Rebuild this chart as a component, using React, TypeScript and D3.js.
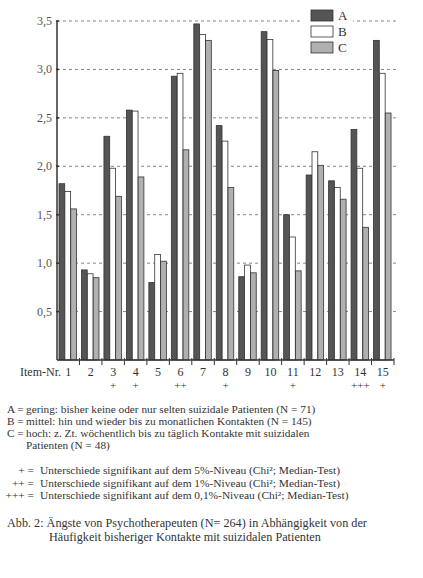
import React from 'react';
import * as d3 from 'd3';

const items = ['1', '2', '3', '4', '5', '6', '7', '8', '9', '10', '11', '12', '13', '14', '15'];
const groups = ['A', 'B', 'C'];
const valuesA = [1.82, 0.93, 2.31, 2.58, 0.8, 2.93, 3.47, 2.42, 0.86, 3.39, 1.5, 1.91, 1.85, 2.38, 3.3];
const valuesB = [1.74, 0.89, 1.98, 2.57, 1.09, 2.96, 3.36, 2.26, 0.98, 3.31, 1.27, 2.15, 1.78, 1.98, 2.96];
const valuesC = [1.56, 0.85, 1.69, 1.89, 1.02, 2.17, 3.3, 1.78, 0.9, 2.99, 0.92, 2.01, 1.66, 1.37, 2.55];
const signif = ['', '', '+', '+', '', '++', '', '+', '', '', '+', '', '', '+++', '+'];
const yTicks = [0.5, 1, 1.5, 2, 2.5, 3, 3.5];

const groupLines = [
  ['A =', 'gering: bisher keine oder nur selten suizidale Patienten (N = 71)'],
  ['B =', 'mittel: hin und wieder bis zu monatlichen Kontakten (N = 145)'],
  ['C =', 'hoch: z. Zt. wöchentlich bis zu täglich Kontakte mit suizidalen'],
  ['', 'Patienten (N = 48)'],
];
const signifLines = [
  ['+ =', 'Unterschiede signifikant auf dem 5%-Niveau (Chi²; Median-Test)'],
  ['++ =', 'Unterschiede signifikant auf dem 1%-Niveau (Chi²; Median-Test)'],
  ['+++ =', 'Unterschiede signifikant auf dem 0,1%-Niveau (Chi²; Median-Test)'],
];
const caption = [
  'Abb. 2: Ängste von Psychotherapeuten (N= 264) in Abhängigkeit von der',
  'Häufigkeit bisheriger Kontakte mit suizidalen Patienten',
];

const colors: Record<string, string> = { A: '#555', B: '#fff', C: '#b0b0b0' };
const font = '"Liberation Serif", serif';
const ink = '#333';

export default function App() {
  const left = 57;
  const right = 394;
  const top = 21;
  const bottom = 360;

  const x = d3.scaleBand().domain(items).range([left, right]);
  const x1 = d3.scaleBand().domain(groups).range([2, 19.5]).paddingInner(0.02);
  const y = d3.scaleLinear().domain([0, 3.5]).range([bottom, top]);

  const series: Record<string, number[]> = { A: valuesA, B: valuesB, C: valuesC };

  return (
    <svg width={423} height={578} style={{ position: 'absolute', left: 0, top: 0, background: '#fff' }}>
      {/* gridlines */}
      {yTicks.map((t) => (
        <line key={t} x1={left} x2={right + 3} y1={y(t)} y2={y(t)} stroke="#666" strokeWidth={0.8} strokeDasharray="3,3" />
      ))}
      {/* bars */}
      {items.map((it, i) => (
        <g key={it} transform={`translate(${x(it)},0)`}>
          {groups.map((g) => (
            <rect
              key={g}
              x={x1(g)}
              y={y(series[g][i])}
              width={x1.bandwidth()}
              height={bottom - y(series[g][i])}
              fill={colors[g]}
              stroke={ink}
              strokeWidth={0.8}
            />
          ))}
        </g>
      ))}
      {/* y axis */}
      <line x1={left} x2={left} y1={top} y2={bottom} stroke={ink} strokeWidth={1.5} />
      {yTicks.map((t) => (
        <g key={t}>
          <line x1={left - 1} x2={left + 2} y1={y(t)} y2={y(t)} stroke={ink} strokeWidth={1.5} />
          <text x={left - 5} y={y(t) + 4} textAnchor="end" fontFamily={font} fontSize={12} fill="#555">
            {d3.format('.1f')(t).replace('.', ',')}
          </text>
        </g>
      ))}
      {/* x axis */}
      <line x1={left} x2={right} y1={bottom} y2={bottom} stroke={ink} strokeWidth={1.5} />
      {items.map((it) => (
        <g key={it}>
          <line x1={(x(it) as number) + x.bandwidth()} x2={(x(it) as number) + x.bandwidth()} y1={bottom - 2} y2={bottom + 5} stroke={ink} strokeWidth={1} />
          <text x={(x(it) as number) + x.bandwidth() / 2} y={376} textAnchor="middle" fontFamily={font} fontSize={12} fill={ink}>
            {it}
          </text>
        </g>
      ))}
      <text x={61} y={376} textAnchor="end" fontFamily={font} fontSize={12} fill={ink}>Item-Nr.</text>
      {items.map((it, i) => (
        <text key={it} x={(x(it) as number) + x.bandwidth() / 2} y={389} textAnchor="middle" fontFamily={font} fontSize={11} fill={ink}>
          {signif[i]}
        </text>
      ))}
      {/* legend */}
      <rect x={303} y={6} width={50} height={48} fill="#fff" />
      {groups.map((g, i) => (
        <g key={g} transform={`translate(311,${10 + i * 16})`}>
          <rect width={22} height={11} fill={colors[g]} stroke={ink} strokeWidth={0.8} />
          <text x={27} y={10} fontFamily={font} fontSize={13} fill={ink}>{g}</text>
        </g>
      ))}
      {/* notes */}
      {groupLines.map((l, i) => (
        <g key={i}>
          <text x={7} y={413 + i * 12} fontFamily={font} fontSize={11.3} fill={ink}>{l[0]}</text>
          <text x={26} y={413 + i * 12} fontFamily={font} fontSize={11.3} fill={ink}>{l[1]}</text>
        </g>
      ))}
      {signifLines.map((l, i) => (
        <g key={i}>
          <text x={34} y={474 + i * 12.5} textAnchor="end" fontFamily={font} fontSize={11.4} fill={ink}>{l[0]}</text>
          <text x={40} y={474 + i * 12.5} fontFamily={font} fontSize={11.4} fill={ink}>{l[1]}</text>
        </g>
      ))}
      <text x={7} y={527} fontFamily={font} fontSize={12.2} fill={ink}>{caption[0]}</text>
      <text x={49} y={541} fontFamily={font} fontSize={12.2} fill={ink}>{caption[1]}</text>
    </svg>
  );
}
